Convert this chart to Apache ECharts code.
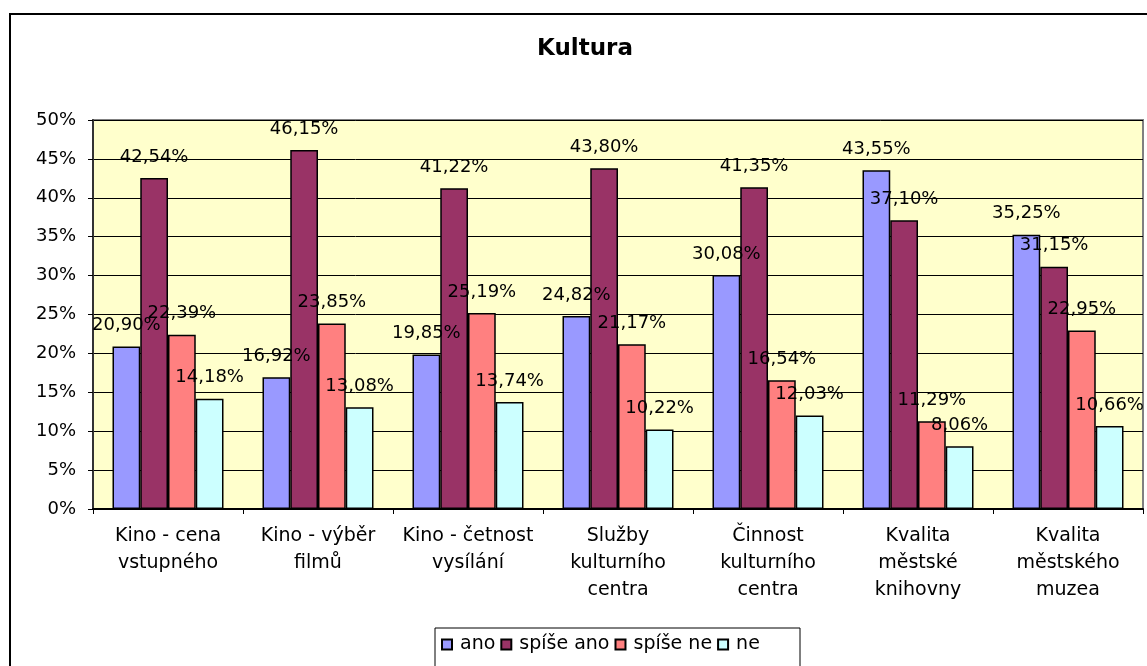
<!DOCTYPE html>
<html>
<head>
<meta charset="utf-8">
<script src="https://cdn.jsdelivr.net/npm/echarts@6/dist/echarts.min.js"></script>
<style>html,body{margin:0;padding:0;background:#fff;}#c{width:1147px;height:666px;}</style>
</head>
<body>
<div id="c"></div>
<script>
const titleText = 'Kultura';
const categories = [
  'Kino - cena\nvstupného',
  'Kino - výběr\nfilmů',
  'Kino - četnost\nvysílání',
  'Služby\nkulturního\ncentra',
  'Činnost\nkulturního\ncentra',
  'Kvalita\nměstské\nknihovny',
  'Kvalita\nměstského\nmuzea'
];
const seriesNames = ['ano', 'spíše ano', 'spíše ne', 'ne'];
const ano = [20.90, 16.92, 19.85, 24.82, 30.08, 43.55, 35.25];
const spiseAno = [42.54, 46.15, 41.22, 43.80, 41.35, 37.10, 31.15];
const spiseNe = [22.39, 23.85, 25.19, 21.17, 16.54, 11.29, 22.95];
const ne = [14.18, 13.08, 13.74, 10.22, 12.03, 8.06, 10.66];
const colors = ['#9999FF', '#993366', '#FF8080', '#CCFFFF'];
const yMin = 0, yMax = 50, yStep = 5;

const FONT = 'DejaVu Sans';
const chart = echarts.init(document.getElementById('c'), null, {renderer: 'canvas'});
const allData = [ano, spiseAno, spiseNe, ne];

const series = allData.map((d, i) => ({
  name: seriesNames[i],
  type: 'bar',
  data: d,
  barGap: '0%',
  barCategoryGap: '26%',
  itemStyle: {color: colors[i], borderColor: '#000', borderWidth: 1.5},
  label: {
    show: true,
    position: 'top',
    distance: 12,
    color: '#000',
    fontFamily: FONT,
    fontSize: 18,
    formatter: p => p.value.toFixed(2).replace('.', ',') + '%'
  },
  emphasis: {disabled: true},
  animation: false
}));

chart.setOption({
  animation: false,
  grid: {
    left: 93, right: 4, top: 120, bottom: 157,
    show: true, backgroundColor: '#FFFFCC', borderColor: '#808080', borderWidth: 2
  },
  legend: {
    data: seriesNames,
    left: 436, top: 630,
    itemWidth: 10, itemHeight: 10, itemGap: 5,
    icon: 'rect',
    textStyle: {fontFamily: FONT, fontSize: 19, color: '#000', padding: [0, 0, 0, 3]},
    selectedMode: false
  },
  xAxis: {
    type: 'category',
    data: categories,
    axisLine: {lineStyle: {color: '#000', width: 2}},
    axisTick: {show: true, length: 5, lineStyle: {color: '#000'}},
    axisLabel: {interval: 0, margin: 14, color: '#000', fontFamily: FONT, fontSize: 19, lineHeight: 27}
  },
  yAxis: {
    type: 'value',
    min: yMin, max: yMax, interval: yStep,
    axisLine: {show: true, lineStyle: {color: '#333', width: 2}},
    axisTick: {show: true, length: 5, lineStyle: {color: '#000'}},
    splitLine: {lineStyle: {color: '#000', width: 1}},
    axisLabel: {margin: 17, color: '#000', fontFamily: FONT, fontSize: 18, formatter: v => v + '%'}
  },
  graphic: [
    {type: 'rect', shape: {x: 10, y: 14, width: 1200, height: 700}, style: {fill: 'none', stroke: '#000', lineWidth: 2}, silent: true, z: -10},
    {type: 'text', x: 585, y: 49, style: {text: titleText, fontFamily: FONT, fontWeight: 'bold', fontSize: 23, fill: '#000', textAlign: 'center', textVerticalAlign: 'middle'}},
    {type: 'rect', shape: {x: 435, y: 628, width: 365, height: 60}, style: {fill: 'none', stroke: '#000', lineWidth: 1}, silent: true}
  ],
  series: series
});
</script>
</body>
</html>
